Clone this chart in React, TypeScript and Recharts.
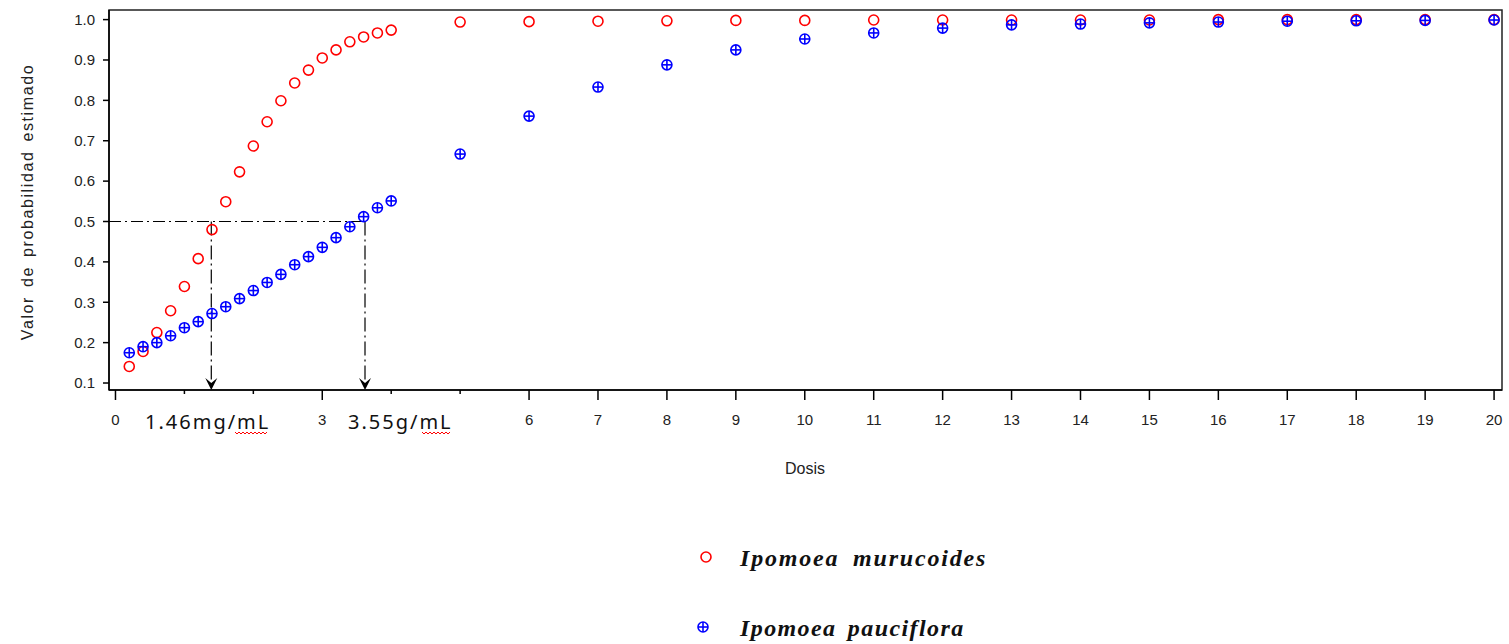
import { ReferenceArea, ReferenceLine, Scatter, ScatterChart, XAxis, YAxis } from 'recharts';

// Dosis (mg/mL): pasos de 0.2 hasta 4, luego enteros hasta 20
const dosis = [
  0.2, 0.4, 0.6, 0.8, 1.0, 1.2, 1.4, 1.6, 1.8, 2.0, 2.2, 2.4, 2.6, 2.8, 3.0, 3.2, 3.4, 3.6, 3.8, 4.0,
  5, 6, 7, 8, 9, 10, 11, 12, 13, 14, 15, 16, 17, 18, 19, 20,
];

// Probabilidad estimada, Ipomoea murucoides
const murucoides = [
  0.141, 0.178, 0.225, 0.279, 0.339, 0.408, 0.48, 0.549, 0.623, 0.687, 0.747, 0.799, 0.843, 0.875,
  0.905, 0.925, 0.945, 0.957, 0.967, 0.974,
  0.994, 0.995, 0.996, 0.997, 0.998, 0.998, 0.999, 0.999, 0.999, 0.999, 0.999, 1.0, 1.0, 1.0, 1.0, 1.0,
];

// Probabilidad estimada, Ipomoea pauciflora
const pauciflora = [
  0.175, 0.19, 0.2, 0.217, 0.237, 0.252, 0.272, 0.289, 0.309, 0.329, 0.349, 0.369, 0.393, 0.413,
  0.436, 0.46, 0.487, 0.512, 0.534, 0.551,
  0.667, 0.761, 0.833, 0.888, 0.925, 0.952, 0.967, 0.979, 0.987, 0.989, 0.992, 0.994, 0.996, 0.997,
  0.998, 0.999,
];

// DL50 marcadas (posición dibujada) y sus rótulos
const dl50 = [1.39, 3.62];
const dl50Labels = ['1.46mg/mL', '3.55g/mL'];
const probCorte = 0.5;

const xTicks = [0, 1, 2, 3, 4, 5, 6, 7, 8, 9, 10, 11, 12, 13, 14, 15, 16, 17, 18, 19, 20];
const xHidden = [1, 2, 4, 5];
const yTicks = [0.1, 0.2, 0.3, 0.4, 0.5, 0.6, 0.7, 0.8, 0.9, 1.0];

const X_DOMAIN: [number, number] = [-0.094, 20.115];
const Y_DOMAIN: [number, number] = [0.0827, 1.0238];

const RED = '#ff0000';
const BLUE = '#0000ff';
const SANS = '"Liberation Sans", Arial, sans-serif';
const SERIF = '"Liberation Serif", "Times New Roman", serif';

const muruData = dosis.map((x, i) => ({ x, y: murucoides[i] }));
const paucData = dosis.map((x, i) => ({ x, y: pauciflora[i] }));

function OpenCircle({ cx, cy }: any) {
  if (cx == null || cy == null) return null;
  return <circle cx={cx} cy={cy} r={5} fill="none" stroke={RED} strokeWidth={1.6} />;
}

function CrossCircle({ cx, cy }: any) {
  if (cx == null || cy == null) return null;
  return (
    <g stroke={BLUE} strokeWidth={1.6} fill="none">
      <circle cx={cx} cy={cy} r={5} />
      <line x1={cx - 5} x2={cx + 5} y1={cy} y2={cy} />
      <line x1={cx} x2={cx} y1={cy - 5} y2={cy + 5} />
    </g>
  );
}

function XTick({ x, y, payload }: any) {
  const v = payload.value as number;
  const minor = xHidden.includes(v);
  const axisY = y - 24;
  return (
    <g>
      <line x1={x} x2={x} y1={axisY} y2={axisY + (minor ? 4 : 10)} stroke="#000" strokeWidth={1.5} />
      {!minor && (
        <text x={x} y={y} dy="0.71em" textAnchor="middle" fontSize={15} fontFamily={SANS} fill="#222">
          {v}
        </text>
      )}
    </g>
  );
}

function ArrowLine({ x1, y1, x2, y2 }: any) {
  return (
    <g>
      <line x1={x1} y1={y1} x2={x2} y2={y2 - 4} stroke="#000" strokeWidth={1.2} strokeDasharray="14 4 2 4" />
      <polygon
        points={`${x2},${y2} ${x2 - 6},${y2 - 12} ${x2},${y2 - 7} ${x2 + 6},${y2 - 12}`}
        fill="#000"
      />
    </g>
  );
}

function Squiggle({ x, y, w }: { x: number; y: number; w: number }) {
  const pts: string[] = [];
  for (let i = 0; i <= w; i += 2) pts.push(`${x + i},${y + (i % 4 === 0 ? 0 : 2)}`);
  return <polyline points={pts.join(' ')} fill="none" stroke={RED} strokeWidth={1} />;
}

export default function App() {
  return (
    <div style={{ position: 'absolute', left: 0, top: 0, width: 1509, height: 644, background: '#fff' }}>
      <ScatterChart width={1509} height={644} margin={{ top: 10, right: 7, left: 49, bottom: 224 }}>
        <XAxis
          type="number"
          dataKey="x"
          domain={X_DOMAIN}
          ticks={xTicks}
          interval={0}
          allowDataOverflow
          height={30}
          tickSize={10}
          tickMargin={14}
          tickLine={false}
          tick={<XTick />}
          axisLine={{ stroke: '#000', strokeWidth: 1.5 }}
        />
        <YAxis
          type="number"
          dataKey="y"
          domain={Y_DOMAIN}
          ticks={yTicks}
          interval={0}
          allowDataOverflow
          width={60}
          tickSize={6}
          tickMargin={8}
          tickFormatter={(v: number) => v.toFixed(1)}
          tick={{ fontSize: 15, fontFamily: SANS, fill: '#222' }}
          tickLine={{ stroke: '#000', strokeWidth: 1.5 }}
          axisLine={{ stroke: '#000', strokeWidth: 1.5 }}
        />
        <ReferenceArea
          x1={X_DOMAIN[0]}
          x2={X_DOMAIN[1]}
          y1={Y_DOMAIN[0]}
          y2={Y_DOMAIN[1]}
          fill="none"
          stroke="#222"
          strokeWidth={1.5}
          ifOverflow="visible"
        />
        <ReferenceLine
          segment={[
            { x: X_DOMAIN[0], y: probCorte },
            { x: dl50[1], y: probCorte },
          ]}
          stroke="#000"
          strokeWidth={1.2}
          strokeDasharray="12 4 2 4"
        />
        {dl50.map((d) => (
          <ReferenceLine
            key={d}
            segment={[
              { x: d, y: probCorte },
              { x: d, y: Y_DOMAIN[0] },
            ]}
            shape={<ArrowLine />}
          />
        ))}
        <Scatter name="Ipomoea murucoides" data={muruData} shape={<OpenCircle />} isAnimationActive={false} />
        <Scatter name="Ipomoea pauciflora" data={paucData} shape={<CrossCircle />} isAnimationActive={false} />
      </ScatterChart>

      <svg
        width={1509}
        height={644}
        style={{ position: 'absolute', left: 0, top: 0, pointerEvents: 'none' }}
      >
        <text
          x={33}
          y={202}
          transform="rotate(-90 33 202)"
          textAnchor="middle"
          fontSize={16}
          letterSpacing={1.6}
          wordSpacing={3}
          fontFamily={SANS}
          fill="#222"
        >
          Valor de probabilidad estimado
        </text>
        <text x={805} y={474} textAnchor="middle" fontSize={16} fontFamily={SANS} fill="#222">
          Dosis
        </text>

        <text x={145} y={429} fontSize={20} letterSpacing={2} fontFamily='"Noto Sans", sans-serif' fill="#111">
          {dl50Labels[0]}
        </text>
        <Squiggle x={235} y={432} w={32} />
        <text x={348} y={429} fontSize={20} letterSpacing={2} fontFamily='"Noto Sans", sans-serif' fill="#111">
          {dl50Labels[1]}
        </text>
        <Squiggle x={422} y={432} w={28} />

        <OpenCircle cx={706} cy={557} />
        <text
          x={740}
          y={566}
          fontSize={24}
          fontStyle="italic"
          fontWeight="bold"
          letterSpacing={1.8}
          wordSpacing={6}
          fontFamily={SERIF}
          fill="#111"
        >
          Ipomoea murucoides
        </text>
        <CrossCircle cx={703} cy={627} />
        <text
          x={740}
          y={636}
          fontSize={24}
          fontStyle="italic"
          fontWeight="bold"
          letterSpacing={1.4}
          wordSpacing={4}
          fontFamily={SERIF}
          fill="#111"
        >
          Ipomoea pauciflora
        </text>
      </svg>
    </div>
  );
}
